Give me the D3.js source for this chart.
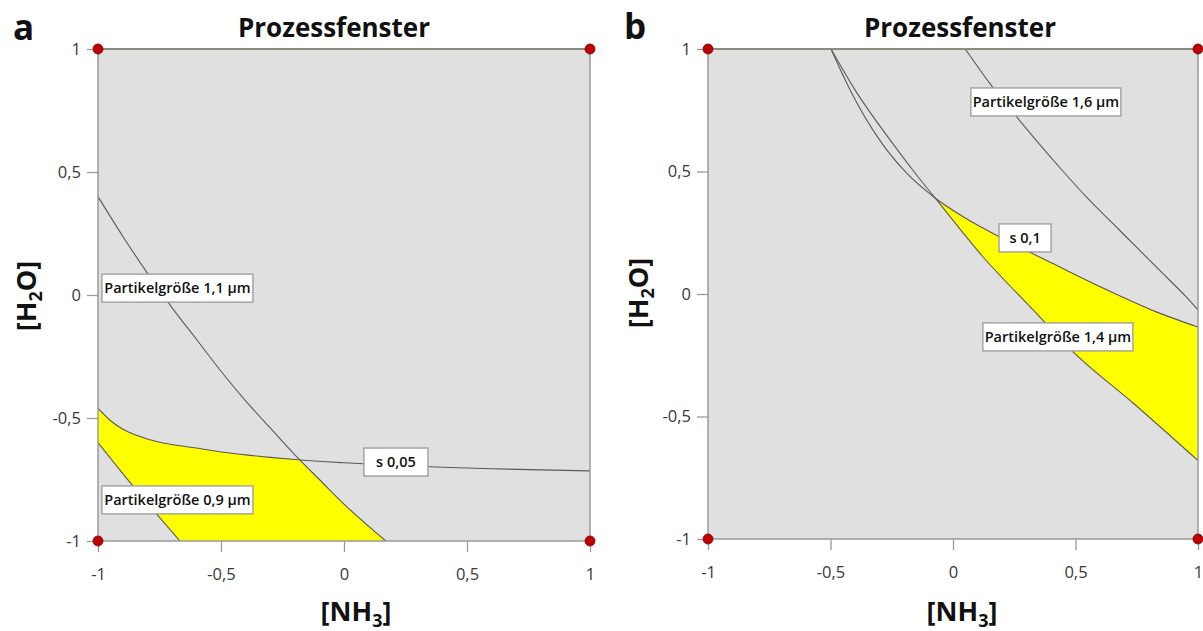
<!DOCTYPE html>
<html>
<head>
<meta charset="utf-8">
<script src="https://cdn.jsdelivr.net/npm/d3@7"></script>
<style>
  body { margin: 0; background: #fff; }
  svg { display: block; }
  text { font-family: "Open Sans", "Noto Sans", sans-serif; }
</style>
</head>
<body>
<svg id="chart" width="1203" height="631"></svg>
<script>
// Coded factor levels on both axes
const tickValues = [-1, -0.5, 0, 0.5, 1];
const tickLabels = ["-1", "-0,5", "0", "0,5", "1"];

// Panel a: contour lines (x = [NH3], y = [H2O])
const aSize11X = [-1, -0.9, -0.8, -0.7, -0.6, -0.5, -0.4, -0.3, -0.18, -0.1, 0, 0.17];
const aSize11Y = [0.40, 0.24, 0.09, -0.05, -0.18, -0.31, -0.43, -0.54, -0.67, -0.75, -0.85, -1.0];
const aS005X = [-1, -0.95, -0.9, -0.8, -0.7, -0.6, -0.5, -0.4, -0.3, -0.2, 0, 0.2, 0.4, 0.6, 0.8, 1];
const aS005Y = [-0.46, -0.51, -0.545, -0.585, -0.608, -0.622, -0.638, -0.650, -0.660, -0.669, -0.682, -0.692, -0.700, -0.706, -0.711, -0.715];
const aSize09X = [-1, -0.9, -0.8, -0.667];
const aSize09Y = [-0.60, -0.725, -0.845, -1.0];

// Panel b: contour lines
const bSize16X = [0.05, 0.15, 0.25, 0.35, 0.45, 0.55, 0.65, 0.75, 0.85, 0.95, 1.0];
const bSize16Y = [1.0, 0.86, 0.735, 0.615, 0.50, 0.39, 0.29, 0.19, 0.09, -0.01, -0.065];
const bS01X = [-0.498, -0.42, -0.30, -0.19, -0.073, 0.05, 0.19, 0.42, 0.63, 0.83, 1.0];
const bS01Y = [1.0, 0.833, 0.629, 0.494, 0.392, 0.31, 0.233, 0.118, 0.016, -0.073, -0.135];
const bSize14X = [-0.498, -0.40, -0.257, -0.155, -0.073, 0.122, 0.327, 0.49, 0.735, 1.0];
const bSize14Y = [1.0, 0.833, 0.629, 0.494, 0.392, 0.152, -0.065, -0.236, -0.445, -0.680];

// Contour label texts
const aLabelTexts = ["Partikelgröße 1,1 µm", "s 0,05", "Partikelgröße 0,9 µm"];
const bLabelTexts = ["Partikelgröße 1,6 µm", "s 0,1", "Partikelgröße 1,4 µm"];

// Design-space corner points
const cornerX = [-1, 1, -1, 1];
const cornerY = [1, 1, -1, -1];

const svg = d3.select("#chart");
const defs = svg.append("defs");

const panels = [
  {
    id: "a", letter: "a", left: 98, right: 590, top: 49, bottom: 541,
    letterX: 13, letterY: 40, titleX: 334, xTitleX: 356, yTitleX: 36, yTitleY: 296,
    curves: [d3.zip(aSize11X, aSize11Y), d3.zip(aS005X, aS005Y), d3.zip(aSize09X, aSize09Y)],
    // window: below size 1.1, below s 0.05, above size 0.9
    sides: ["below", "below", "above"],
    labels: aLabelTexts,
    labelBoxes: [[-0.984, 0.085, 151], [0.081, -0.622, 64], [-0.984, -0.776, 151]]
  },
  {
    id: "b", letter: "b", left: 708, right: 1198, top: 49, bottom: 539,
    letterX: 624, letterY: 39, titleX: 960, xTitleX: 962, yTitleX: 648, yTitleY: 293,
    curves: [d3.zip(bSize16X, bSize16Y), d3.zip(bS01X, bS01Y), d3.zip(bSize14X, bSize14Y)],
    // window: below s 0.1, above size 1.4
    sides: [null, "below", "above"],
    labels: bLabelTexts,
    labelBoxes: [[0.073, 0.841, 150], [0.188, 0.286, 52], [0.122, -0.118, 150]]
  }
];

panels.forEach(cfg => {
  const { left: L, right: R, top: T, bottom: B } = cfg;
  const x = d3.scaleLinear().domain([-1, 1]).range([L, R]);
  const y = d3.scaleLinear().domain([-1, 1]).range([B, T]);
  const line = d3.line().x(d => x(d[0])).y(d => y(d[1])).curve(d3.curveMonotoneX);
  const g = svg.append("g");

  // half-plane bounded by a contour, used to carve out the process window
  const m = 60;
  function halfPlane(pts, side) {
    const p = line(pts);
    const xf = x(pts[0][0]), yf = y(pts[0][1]);
    if (side === "below") {
      return p + `L${R + m},${B + m}L${L - m},${B + m}L${L - m},${T - m}L${xf},${T - m}Z`;
    }
    return p + `L${R + m},${B + m}L${R + m},${T - m}L${L - m},${T - m}L${L - m},${yf}Z`;
  }

  defs.append("clipPath").attr("id", `plot-${cfg.id}`)
    .append("rect").attr("x", L).attr("y", T).attr("width", R - L).attr("height", B - T);

  // plot background
  g.append("rect")
    .attr("x", L).attr("y", T).attr("width", R - L).attr("height", B - T)
    .attr("fill", "#e0e0e0");

  // process window (yellow): intersection of the constraint half-planes
  let holder = g.append("g").attr("clip-path", `url(#plot-${cfg.id})`);
  cfg.curves.forEach((pts, i) => {
    if (!cfg.sides[i]) return;
    const cid = `win-${cfg.id}-${i}`;
    defs.append("clipPath").attr("id", cid).append("path").attr("d", halfPlane(pts, cfg.sides[i]));
    holder = holder.append("g").attr("clip-path", `url(#${cid})`);
  });
  holder.append("rect")
    .attr("x", L - m).attr("y", T - m).attr("width", R - L + 2 * m).attr("height", B - T + 2 * m)
    .attr("fill", "#ffff00");

  // contour lines
  const lines = g.append("g").attr("clip-path", `url(#plot-${cfg.id})`);
  cfg.curves.forEach(pts => {
    lines.append("path").attr("d", line(pts))
      .attr("fill", "none").attr("stroke", "#5a5a5a").attr("stroke-width", 1.1);
  });

  // frame
  g.append("rect")
    .attr("x", L).attr("y", T).attr("width", R - L).attr("height", B - T)
    .attr("fill", "none").attr("stroke", "#9a9a9a").attr("stroke-width", 1.5);
  g.append("line").attr("x1", L).attr("x2", R).attr("y1", T).attr("y2", T)
    .attr("stroke", "#807f72").attr("stroke-width", 1.5);

  // axes
  const fmt = d => tickLabels[tickValues.indexOf(d)];
  const ax = g.append("g").attr("transform", `translate(0,${B})`)
    .call(d3.axisBottom(x).tickValues(tickValues).tickFormat(fmt).tickSize(11).tickPadding(16));
  const ay = g.append("g").attr("transform", `translate(${L},0)`)
    .call(d3.axisLeft(y).tickValues(tickValues).tickFormat(fmt).tickSize(11).tickPadding(6));
  [ax, ay].forEach(a => {
    a.select(".domain").remove();
    a.selectAll(".tick line").attr("stroke", "#9a9a9a").attr("stroke-width", 1.3);
    a.selectAll(".tick text").attr("fill", "#383838").style("font-size", "16.5px")
      .style("font-family", '"Open Sans", sans-serif');
  });

  // corner points
  g.selectAll("circle.corner").data(d3.zip(cornerX, cornerY)).join("circle")
    .attr("class", "corner")
    .attr("cx", d => x(d[0])).attr("cy", d => y(d[1])).attr("r", 5)
    .attr("fill", "#c00000").attr("stroke", "#7a0000").attr("stroke-width", 0.8);

  // contour labels
  cfg.labels.forEach((txt, i) => {
    const [bx, by, bw] = cfg.labelBoxes[i];
    const px = x(bx), py = y(by), bh = 28;
    g.append("rect").attr("x", px).attr("y", py).attr("width", bw).attr("height", bh)
      .attr("fill", "#fff").attr("stroke", "#9a9a9a").attr("stroke-width", 1.3);
    g.append("text").attr("x", px + bw / 2).attr("y", py + bh / 2 + 5)
      .attr("text-anchor", "middle")
      .style("font-size", "14.5px").style("font-weight", 600).attr("fill", "#111")
      .text(txt);
  });

  // panel letter and title
  g.append("text").attr("x", cfg.letterX).attr("y", cfg.letterY)
    .style("font-size", "35px").style("font-weight", 700).attr("fill", "#111")
    .text(cfg.letter);
  g.append("text").attr("x", cfg.titleX).attr("y", 37).attr("text-anchor", "middle")
    .style("font-size", "26px").style("font-weight", 700).attr("fill", "#111")
    .text("Prozessfenster");

  // axis titles with subscripts
  const xt = g.append("text").attr("x", cfg.xTitleX).attr("y", 621).attr("text-anchor", "middle")
    .style("font-size", "27px").style("font-weight", 700).attr("fill", "#111");
  xt.append("tspan").text("[NH");
  xt.append("tspan").attr("dy", 6).style("font-size", "18px").text("3");
  xt.append("tspan").attr("dy", -6).text("]");

  const yt = g.append("text")
    .attr("transform", `translate(${cfg.yTitleX},${cfg.yTitleY}) rotate(-90)`)
    .attr("text-anchor", "middle")
    .style("font-size", "27px").style("font-weight", 700).attr("fill", "#111");
  yt.append("tspan").text("[H");
  yt.append("tspan").attr("dy", 6).style("font-size", "18px").text("2");
  yt.append("tspan").attr("dy", -6).text("O]");
});
</script>
</body>
</html>
